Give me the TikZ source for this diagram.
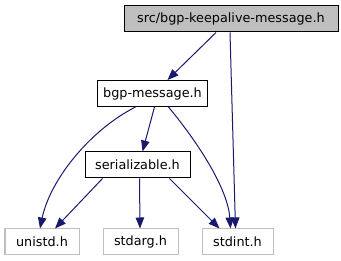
\documentclass[tikz,border=0pt]{standalone}
\usepackage{fontspec}
\setmainfont{DejaVu Sans}
\usetikzlibrary{arrows.meta}
\definecolor{edgeblue}{HTML}{191970}
\definecolor{hdrgray}{HTML}{BFBFBF}

\begin{document}
\begin{tikzpicture}[
  x=1pt, y=1pt,
  font=\fontsize{12.8}{14}\selectfont,
  file/.style={draw=#1, fill=white, line width=1pt, minimum height=26pt,
               inner xsep=3pt, anchor=center},
  file/.default=black,
  arr/.style={-{Triangle[length=11pt,width=8.5pt]}, draw=edgeblue, line width=1pt}]
 \useasboundingbox (0,0) rectangle (341,-261);
 % the file itself and its local includes
 \node[file, fill=hdrgray, minimum width=214pt] (ka) at (231,-19) {src/bgp-keepalive-message.h};
 \node[file, minimum width=110pt] (msg) at (152.5,-93.5) {bgp-message.h};
 \node[file, minimum width=105pt] (ser) at (137.5,-165) {serializable.h};
 % system headers
 \node[file=hdrgray, minimum width=74pt] (unistd) at (42,-242) {unistd.h};
 \node[file=hdrgray, minimum width=75pt] (stdarg) at (140.5,-242) {stdarg.h};
 \node[file=hdrgray, minimum width=71pt] (stdint) at (237.5,-242) {stdint.h};
 \draw[arr] ([xshift=-15pt]ka.south) -- ([xshift=15pt]msg.north);
 \draw[arr] ([xshift=-1pt]ka.south) -- ([xshift=-2pt]stdint.north);
 \draw[arr] ([xshift=-17pt]msg.south) .. controls (90,-130) and (50,-180) .. ([xshift=-2pt]unistd.north);
 \draw[arr] ([xshift=2pt]msg.south) -- ([xshift=5pt]ser.north);
 \draw[arr] ([xshift=16pt]msg.south) .. controls (200,-145) and (228,-190) .. ([xshift=-7pt]stdint.north);
 \draw[arr] ([xshift=-35pt]ser.south) -- ([xshift=13pt]unistd.north);
 \draw[arr] ([xshift=2pt]ser.south) -- ([xshift=-0.5pt]stdarg.north);
 \draw[arr] ([xshift=32pt]ser.south) -- ([xshift=-18pt]stdint.north);
\end{tikzpicture}
\end{document}
